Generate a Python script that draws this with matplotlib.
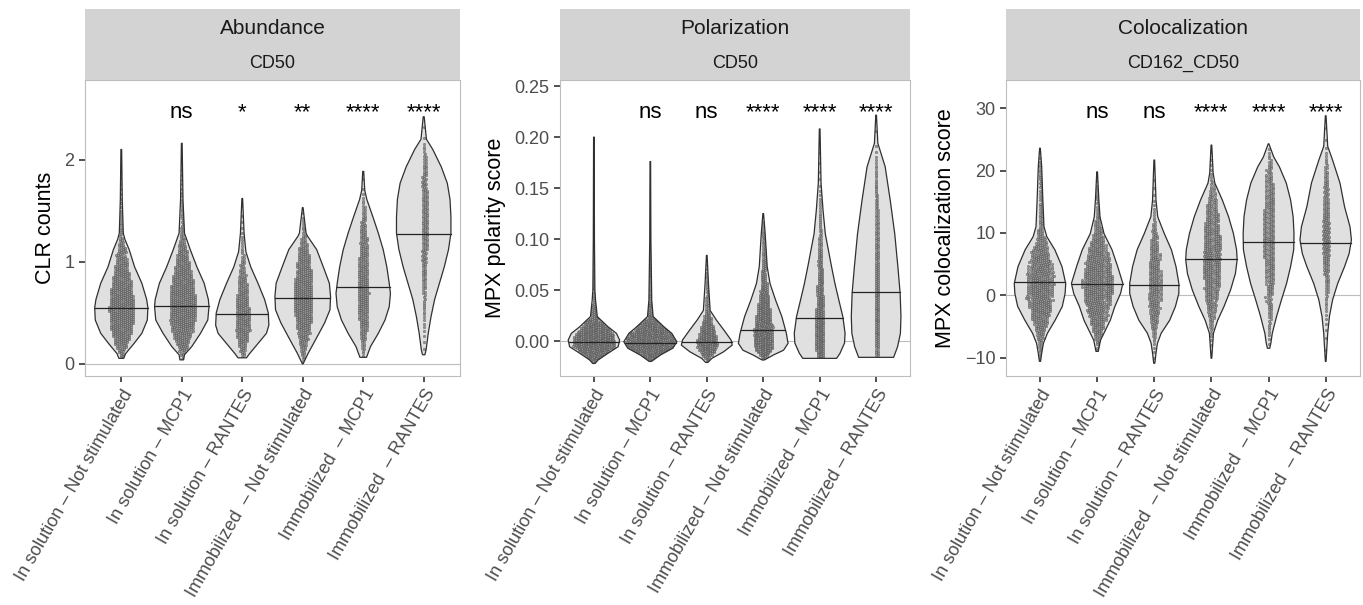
import numpy as np
import matplotlib
matplotlib.use("Agg")
import matplotlib.pyplot as plt
from matplotlib.patches import Rectangle, Polygon
from matplotlib.transforms import blended_transform_factory

plt.rcParams['font.family'] = ['Liberation Sans', 'DejaVu Sans']

# ---------------- data ----------------
conditions_a = ["In solution – Not stimulated", "In solution – MCP1", "In solution – RANTES",
                "Immobilized  – Not stimulated", "Immobilized  – MCP1", "Immobilized  – RANTES"]
conditions_b = ["In solution – Not stimulated", "In solution – MCP1", "In solution – RANTES",
                "Immobilized – Not stimulated", "Immobilized – MCP1", "Immobilized – RANTES"]
n_cells = [480, 520, 230, 380, 260, 170]

panel_titles = ["Abundance", "Polarization", "Colocalization"]
panel_markers = ["CD50", "CD50", "CD162_CD50"]
panel_ylabels = ["CLR counts", "MPX polarity score", "MPX colocalization score"]

signif_abundance = ["", "ns", "*", "**", "****", "****"]
signif_polarization = ["", "ns", "ns", "****", "****", "****"]
signif_colocalization = ["", "ns", "ns", "****", "****", "****"]

# violin profiles: (value, half-width of violin) bottom -> top
abundance_profiles = [
    [(0.055, 0.04), (0.10, 0.07), (0.20, 0.21), (0.30, 0.34), (0.43, 0.43), (0.55, 0.44), (0.63, 0.42),
     (0.79, 0.34), (0.95, 0.22), (1.12, 0.13), (1.22, 0.06), (1.28, 0.033), (1.61, 0.016), (2.10, 0.006)],
    [(0.04, 0.03), (0.09, 0.045), (0.17, 0.165), (0.30, 0.31), (0.43, 0.43), (0.56, 0.45), (0.63, 0.44),
     (0.79, 0.37), (0.95, 0.25), (1.12, 0.14), (1.28, 0.045), (1.61, 0.02), (2.16, 0.006)],
    [(0.06, 0.07), (0.10, 0.12), (0.20, 0.26), (0.30, 0.40), (0.38, 0.44), (0.50, 0.43), (0.63, 0.37),
     (0.79, 0.26), (0.95, 0.14), (1.10, 0.06), (1.28, 0.03), (1.62, 0.006)],
    [(0.0, 0.005), (0.105, 0.09), (0.235, 0.21), (0.40, 0.36), (0.53, 0.45), (0.66, 0.46), (0.79, 0.44),
     (0.95, 0.34), (1.12, 0.23), (1.25, 0.08), (1.28, 0.055), (1.53, 0.006)],
    [(0.065, 0.055), (0.17, 0.12), (0.30, 0.25), (0.43, 0.36), (0.56, 0.43), (0.69, 0.45), (0.79, 0.43),
     (0.95, 0.39), (1.12, 0.33), (1.28, 0.25), (1.44, 0.16), (1.61, 0.06), (1.70, 0.025), (1.885, 0.008)],
    [(0.09, 0.02), (0.14, 0.04), (0.30, 0.075), (0.46, 0.12), (0.63, 0.18), (0.79, 0.26), (0.95, 0.34),
     (1.12, 0.41), (1.28, 0.45), (1.44, 0.45), (1.61, 0.435), (1.77, 0.39), (1.93, 0.29), (2.10, 0.15),
     (2.20, 0.045), (2.42, 0.008)],
]
abundance_medians = [0.55, 0.57, 0.49, 0.645, 0.75, 1.27]

polarization_profiles = [
    [(-0.022, 0.02), (-0.0186, 0.075), (-0.012, 0.25), (-0.0056, 0.43), (0.001, 0.455), (0.0075, 0.40),
     (0.014, 0.25), (0.024, 0.06), (0.04, 0.03), (0.05, 0.018), (0.10, 0.01), (0.20, 0.005)],
    [(-0.020, 0.02), (-0.0137, 0.18), (-0.007, 0.40), (-0.0007, 0.47), (0.0075, 0.38), (0.014, 0.24),
     (0.024, 0.05), (0.04, 0.025), (0.10, 0.01), (0.176, 0.005)],
    [(-0.021, 0.02), (-0.017, 0.09), (-0.0105, 0.30), (-0.004, 0.45), (0.001, 0.43), (0.011, 0.30),
     (0.0206, 0.17), (0.03, 0.06), (0.0565, 0.03), (0.084, 0.006)],
    [(-0.0186, 0.02), (-0.0137, 0.18), (-0.009, 0.36), (-0.0023, 0.44), (0.0075, 0.41), (0.024, 0.33),
     (0.04, 0.22), (0.0565, 0.12), (0.073, 0.07), (0.105, 0.035), (0.125, 0.006)],
    [(-0.017, 0.30), (-0.012, 0.36), (-0.002, 0.44), (0.0075, 0.45), (0.024, 0.41), (0.04, 0.34),
     (0.0565, 0.27), (0.073, 0.21), (0.105, 0.10), (0.128, 0.06), (0.155, 0.024), (0.208, 0.006)],
    [(-0.016, 0.31), (-0.0056, 0.38), (0.0075, 0.43), (0.024, 0.44), (0.047, 0.425), (0.073, 0.385),
     (0.105, 0.33), (0.138, 0.25), (0.171, 0.16), (0.194, 0.03), (0.2215, 0.006)],
]
polarization_medians = [-0.0013, -0.0023, -0.0013, 0.0108, 0.0222, 0.0477]

colocalization_profiles = [
    [(-10.6, 0.01), (-9.3, 0.03), (-7.7, 0.06), (-6.1, 0.13), (-4.0, 0.265), (-1.8, 0.39), (0.3, 0.44),
     (1.9, 0.45), (4.6, 0.385), (7.3, 0.26), (9.4, 0.12), (11.0, 0.07), (15.3, 0.05), (20.6, 0.03), (23.6, 0.006)],
    [(-9.0, 0.02), (-7.2, 0.06), (-5.6, 0.145), (-4.0, 0.23), (-1.8, 0.31), (0.3, 0.41), (1.9, 0.45),
     (4.6, 0.36), (7.3, 0.26), (9.9, 0.12), (12.6, 0.05), (15.3, 0.03), (19.8, 0.006)],
    [(-10.9, 0.01), (-9.3, 0.03), (-7.7, 0.055), (-6.1, 0.12), (-4.0, 0.27), (-1.8, 0.37), (0.3, 0.43),
     (1.9, 0.43), (4.6, 0.38), (7.3, 0.30), (9.9, 0.175), (12.6, 0.06), (15.3, 0.03), (21.7, 0.006)],
    [(-10.1, 0.006), (-6.1, 0.035), (-4.0, 0.11), (-1.8, 0.22), (0.86, 0.335), (3.5, 0.42), (5.7, 0.45),
     (7.3, 0.44), (9.9, 0.385), (12.6, 0.30), (15.3, 0.19), (18.0, 0.06), (19.6, 0.03), (24.1, 0.006)],
    [(-8.5, 0.02), (-7.7, 0.04), (-6.1, 0.065), (-3.4, 0.14), (-0.75, 0.225), (1.9, 0.315), (4.6, 0.385),
     (7.3, 0.44), (9.9, 0.445), (12.6, 0.43), (15.3, 0.385), (18.0, 0.31), (20.6, 0.19), (22.2, 0.09), (24.3, 0.006)],
    [(-10.6, 0.006), (-6.1, 0.035), (-3.4, 0.065), (-0.75, 0.12), (1.9, 0.21), (4.6, 0.33), (6.7, 0.41),
     (8.9, 0.45), (11.0, 0.425), (14.2, 0.33), (18.0, 0.25), (21.7, 0.12), (23.9, 0.035), (28.8, 0.006)],
]
colocalization_medians = [2.1, 1.8, 1.66, 5.9, 8.5, 8.45]

abundance_ticks = [0, 1, 2]
abundance_ticklabels = ["0", "1", "2"]
polarization_ticks = [0.0, 0.05, 0.10, 0.15, 0.20, 0.25]
polarization_ticklabels = ["0.00", "0.05", "0.10", "0.15", "0.20", "0.25"]
colocalization_ticks = [-10, 0, 10, 20, 30]
colocalization_ticklabels = ["\u221210", "0", "10", "20", "30"]

# ---------------- layout ----------------
W, H = 1363, 605
fig = plt.figure(figsize=(W / 100, H / 100), dpi=100)

panels = [
    dict(px=(85, 460), ylim=(-0.118, 2.78), prof=abundance_profiles, med=abundance_medians, swarm=2.0,
         sig=signif_abundance, ticks=abundance_ticks, tl=abundance_ticklabels, cats=conditions_a),
    dict(px=(560, 910), ylim=(-0.0343, 0.256), prof=polarization_profiles, med=polarization_medians, swarm=1.7,
         sig=signif_polarization, ticks=polarization_ticks, tl=polarization_ticklabels, cats=conditions_b),
    dict(px=(1005.7, 1360), ylim=(-12.95, 34.54), prof=colocalization_profiles, med=colocalization_medians, swarm=2.1,
         sig=signif_colocalization, ticks=colocalization_ticks, tl=colocalization_ticklabels, cats=conditions_a),
]
AX_TOP, AX_BOT = 80, 376
STRIP_TOP = 9

fill_col = "#E0E0E0"
edge_col = "#303030"
strip_col = "#D3D3D3"
border_col = "#BDBDBD"


def profile_quantiles(profile, n):
    ys = np.array([p[0] for p in profile], float)
    ws = np.array([p[1] for p in profile], float)
    grid = np.linspace(ys[0], ys[-1], 3000)
    dens = np.interp(grid, ys, ws)
    cdf = np.concatenate([[0], np.cumsum((dens[1:] + dens[:-1]) / 2 * np.diff(grid))])
    cdf /= cdf[-1]
    q = (np.arange(n) + 0.5) / n
    return np.interp(q, cdf, grid)


def swarm_offsets(ypix, d):
    order = np.argsort(ypix)
    xs = np.zeros(len(ypix))
    placed_x, placed_y = [], []
    step = d / 2.0
    start = 0
    for idx in order:
        y = ypix[idx]
        while start < len(placed_y) and placed_y[start] < y - d:
            start += 1
        nx = np.array(placed_x[start:])
        ny = np.array(placed_y[start:])
        k = 0
        chosen = None
        while chosen is None:
            cands = [0.0] if k == 0 else [k * step, -k * step]
            for c in cands:
                if len(nx) == 0 or np.all((nx - c) ** 2 + (ny - y) ** 2 >= d * d):
                    chosen = c
                    break
            k += 1
        xs[idx] = chosen
        placed_x.append(chosen)
        placed_y.append(y)
    return xs


for i, p in enumerate(panels):
    x0, x1 = p["px"]
    ax = fig.add_axes([x0 / W, (H - AX_BOT) / H, (x1 - x0) / W, (AX_BOT - AX_TOP) / H])
    ax.set_xlim(0.4, 6.6)
    ax.set_ylim(*p["ylim"])
    px_per_x = (x1 - x0) / 6.2
    px_per_y = (AX_BOT - AX_TOP) / (p["ylim"][1] - p["ylim"][0])

    ax.axhline(0, color=border_col, lw=0.8, zorder=0.5)

    for j, prof in enumerate(p["prof"]):
        xc = j + 1
        ys = np.array([q[0] for q in prof])
        ws = np.array([q[1] for q in prof])
        verts = np.concatenate([np.column_stack([xc - ws, ys]),
                                np.column_stack([xc + ws[::-1], ys[::-1]])])
        poly = Polygon(verts, closed=True, facecolor=fill_col, edgecolor="none", zorder=1)
        ax.add_patch(poly)
        ax.add_patch(Polygon(verts, closed=True, facecolor="none", edgecolor=edge_col,
                             lw=0.9, zorder=4, joinstyle="round"))
        vals = profile_quantiles(prof, n_cells[j])
        offs = swarm_offsets(vals * px_per_y, p["swarm"]) / px_per_x
        sc = ax.scatter(xc + offs, vals, s=3.0, facecolor="#8A8A8A", edgecolor="#505050",
                        linewidths=0.35, alpha=0.85, zorder=2)
        sc.set_clip_path(poly)
        m = p["med"][j]
        wm = np.interp(m, ys, ws)
        ax.plot([xc - wm, xc + wm], [m, m], color="#222222", lw=0.9, zorder=3)

    trans = blended_transform_factory(ax.transData, ax.transAxes)
    for j, s in enumerate(p["sig"]):
        if s:
            ax.text(j + 1, 0.872, s, transform=trans, ha="center", va="baseline",
                    fontsize=16, color="black")

    ax.set_xticks(range(1, 7))
    ax.set_xticklabels(p["cats"], rotation=60, ha="right", va="top", rotation_mode="anchor",
                       fontsize=13, color="#4D4D4D")
    ax.set_yticks(p["ticks"])
    ax.set_yticklabels(p["tl"], fontsize=13, color="#4D4D4D")
    ax.tick_params(axis="both", length=4.5, width=1.2, color="#333333", pad=3)
    ax.set_ylabel(panel_ylabels[i], fontsize=15.5, color="black", labelpad=6)
    for sp in ax.spines.values():
        sp.set_color(border_col)
        sp.set_linewidth(0.8)

    # strip
    fig.patches.append(Rectangle((x0 / W, (H - AX_TOP) / H), (x1 - x0) / W, (AX_TOP - STRIP_TOP) / H,
                                 transform=fig.transFigure, facecolor=strip_col, edgecolor="none"))
    fig.text((x0 + x1) / 2 / W, (H - 29) / H, panel_titles[i], ha="center", va="center",
             fontsize=15, color="#1A1A1A")
    fig.text((x0 + x1) / 2 / W, (H - 63) / H, panel_markers[i], ha="center", va="center",
             fontsize=13, color="#1A1A1A")

fig.savefig("out.png", dpi=100, facecolor="white")
